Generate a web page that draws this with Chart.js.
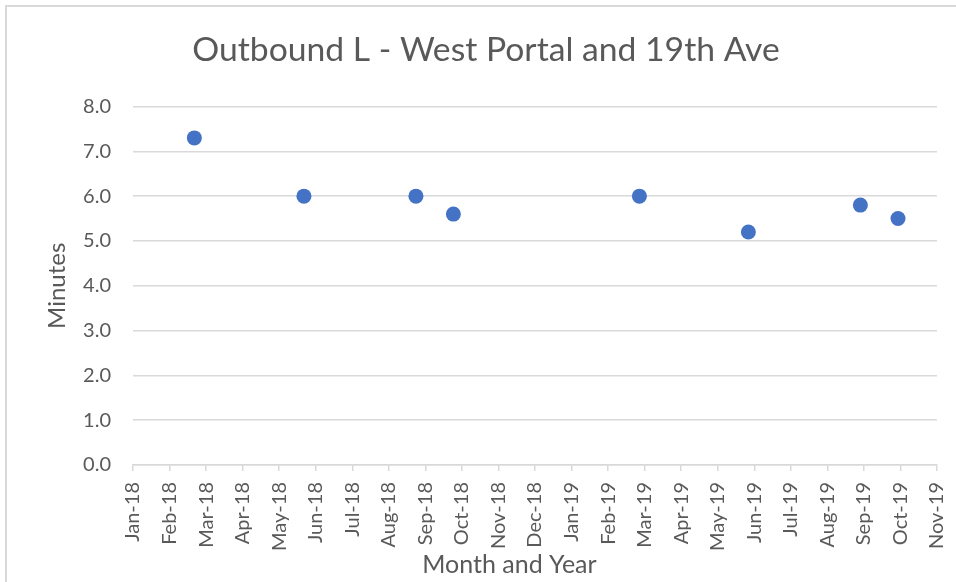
<!DOCTYPE html>
<html>
<head>
<meta charset="utf-8">
<script src="https://cdn.jsdelivr.net/npm/chart.js@4"></script>
<style>
  html, body { margin: 0; padding: 0; background: #fff; overflow: hidden; }
  #frame { position: absolute; left: 5px; top: 5px; width: 1100px; height: 800px; border: 2px solid #d9d9d9; box-sizing: border-box; }
  #wrap { position: absolute; left: 0; top: 0; width: 956px; height: 582px; }
</style>
</head>
<body>
<div id="frame"></div>
<div id="wrap"><canvas id="c" width="956" height="582"></canvas></div>
<script>
const titleText = "Outbound L - West Portal and 19th Ave";
const xTitle = "Month and Year";
const yTitle = "Minutes";
const tickLabels = ["Jan-18","Feb-18","Mar-18","Apr-18","May-18","Jun-18","Jul-18","Aug-18","Sep-18","Oct-18","Nov-18","Dec-18","Jan-19","Feb-19","Mar-19","Apr-19","May-19","Jun-19","Jul-19","Aug-19","Sep-19","Oct-19","Nov-19"];
const dates = ["2018-02-20","2018-05-22","2018-08-24","2018-09-24","2019-02-25","2019-05-27","2019-08-29","2019-09-29"];
const minutes = [7.3, 6.0, 6.0, 5.6, 6.0, 5.2, 5.8, 5.5];

function monthIndex(s) {
  const [y, m, d] = s.split("-").map(Number);
  const dim = new Date(y, m, 0).getDate();
  return (y - 2018) * 12 + (m - 1) + (d - 1) / dim;
}
const points = dates.map((d, i) => ({ x: monthIndex(d), y: minutes[i] }));

const FONT = "Lato, 'Open Sans', 'Liberation Sans', sans-serif";
const grey = "#595959";

new Chart(document.getElementById("c"), {
  type: "scatter",
  data: {
    datasets: [{
      data: points,
      backgroundColor: "#4472C4",
      borderColor: "#4472C4",
      pointRadius: 7.5,
      pointHoverRadius: 7.5,
      borderWidth: 0
    }]
  },
  options: {
    responsive: false,
    animation: false,
    layout: { padding: { left: 16, right: 0, top: 0, bottom: 0 } },
    plugins: {
      legend: { display: false },
      tooltip: { enabled: false },
      title: {
        display: true,
        text: titleText,
        color: grey,
        font: { family: FONT, size: 33.7, weight: "normal" },
        padding: { top: 29.6, bottom: 36.5 }
      }
    },
    scales: {
      x: {
        type: "linear",
        min: 0,
        max: tickLabels.length - 1,
        afterBuildTicks: (axis) => {
          axis.ticks = tickLabels.map((_, i) => ({ value: i }));
        },
        afterFit: (axis) => { axis.height = 117; axis.paddingLeft = 0; axis.paddingRight = 0; },
        grid: {
          display: true,
          drawOnChartArea: false,
          drawTicks: true,
          tickLength: 6,
          color: "#d9d9d9",
          lineWidth: 1.5
        },
        border: { display: true, color: "#d9d9d9", width: 1.5 },
        ticks: {
          autoSkip: false,
          maxRotation: 90,
          minRotation: 90,
          color: grey,
          padding: 11,
          font: { family: FONT, size: 20 },
          callback: (v) => tickLabels[v]
        },
        title: {
          display: true,
          text: xTitle + "        ",
          color: grey,
          font: { family: FONT, size: 25 },
          padding: { top: 0, bottom: 2 }
        }
      },
      y: {
        min: 0,
        max: 8,
        afterFit: (axis) => { axis.width = 117; axis.paddingTop = 0; axis.paddingBottom = 0; },
        ticks: {
          stepSize: 1,
          color: grey,
          padding: 22,
          font: { family: FONT, size: 20 },
          callback: (v) => Number(v).toFixed(1)
        },
        grid: {
          color: "#d9d9d9",
          lineWidth: 1.5,
          drawTicks: false
        },
        border: { display: false },
        title: {
          display: true,
          text: yTitle,
          color: grey,
          font: { family: FONT, size: 24 },
          padding: { top: 27, bottom: 0 }
        }
      },
      yRight: {
        type: "linear",
        position: "right",
        display: true,
        afterFit: (axis) => { axis.width = 19; axis.paddingTop = 0; axis.paddingBottom = 0; },
        grid: { display: false, drawTicks: false },
        border: { display: false },
        ticks: { display: false }
      }
    }
  }
});
</script>
</body>
</html>
